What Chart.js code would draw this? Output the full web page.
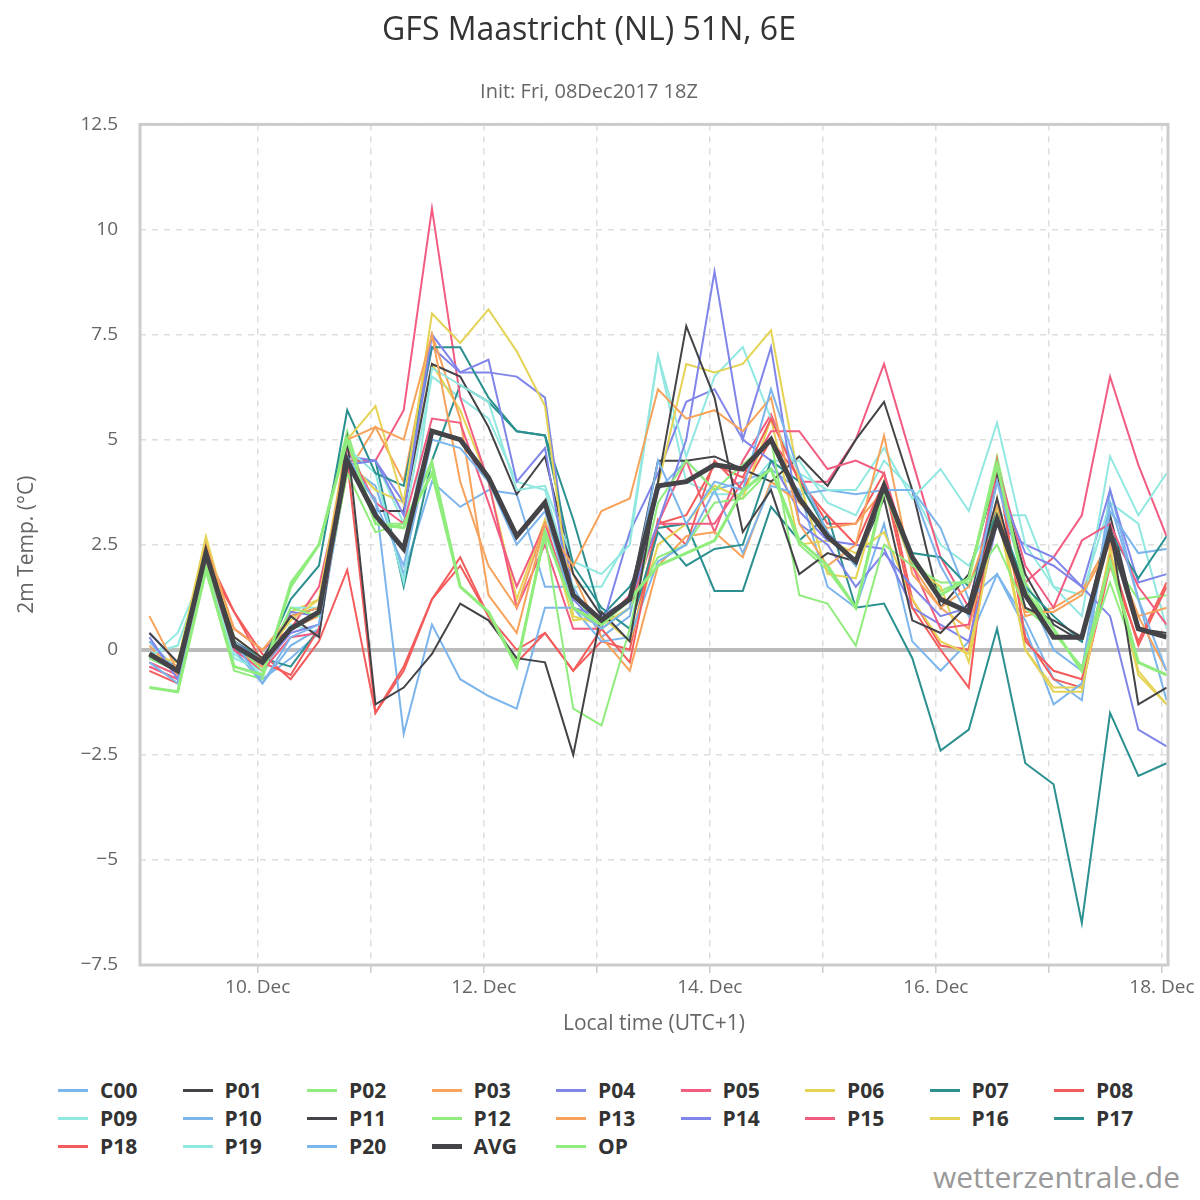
<!DOCTYPE html>
<html><head><meta charset="utf-8">
<script src="https://cdn.jsdelivr.net/npm/chart.js@4.4.1/dist/chart.umd.min.js"></script>
<style>
body{margin:0;background:#fff;font-family:"Open Sans",sans-serif;}
#wrap{position:relative;width:1200px;height:1200px;}
#cw{position:absolute;left:0;top:0;width:1200px;height:1065px;}
#legend{position:absolute;left:58px;top:1078px;width:1120px;display:grid;grid-template-columns:repeat(9,124.5px);row-gap:4px;}
.li{display:flex;align-items:center;font-weight:bold;font-size:21px;color:#333;height:24px;}
.sw{width:30px;height:3px;margin-right:12px;}
#credit{position:absolute;right:20px;top:1156px;font-size:30px;color:#999;}
</style></head><body>
<div id="wrap"><div id="cw"><canvas id="c"></canvas></div><div id="legend"></div><div id="credit">wetterzentrale.de</div></div>
<script>
const hours=[];for(let i=0;i<37;i++)hours.push(1+6*i);
const C00=[-0.3,-0.8,2.2,0.2,-0.8,0.3,0.6,4.6,3.5,2.0,5.0,4.8,4.0,2.5,3.3,1.0,0.5,1.0,4.5,3.0,4.0,3.8,6.2,4.2,2.8,2.0,3.8,3.8,2.0,0.8,4.0,1.5,0.0,-0.5,3.5,1.2,-0.5];
const P01=[0.4,-0.3,2.3,0.3,-0.2,0.8,0.3,5.0,-1.3,-0.9,-0.1,1.1,0.7,-0.2,-0.3,-2.5,0.9,0.2,4.0,7.7,6.0,2.8,3.8,1.8,2.3,2.1,3.6,0.7,0.4,1.1,3.6,1.0,0.7,0.3,2.9,-1.3,-0.9];
const P02=[-0.2,-0.5,2.0,0.2,-0.5,1.0,0.8,4.2,2.8,3.0,4.5,1.5,0.9,-0.3,2.7,-1.4,-1.8,0.5,3.5,4.5,3.8,4.4,5.0,1.3,1.1,0.1,2.5,2.0,1.6,1.6,2.5,1.0,0.4,-0.4,1.6,-0.3,-0.6];
const P03=[0.8,-0.5,2.5,0.5,0.0,0.8,1.0,5.0,5.3,5.0,7.5,4.0,2.0,1.0,3.0,2.0,3.3,3.6,6.2,5.5,5.7,5.2,6.0,3.0,2.0,2.5,5.1,1.8,1.0,1.5,3.5,0.9,0.9,1.3,2.5,0.8,1.0];
const P04=[0.3,-0.7,2.2,0.2,-0.3,0.9,0.8,4.4,4.5,3.2,7.5,6.6,6.9,4.0,4.8,1.0,0.8,1.2,3.0,5.0,9.0,5.0,7.2,3.0,2.5,1.5,2.3,1.5,0.8,1.0,4.0,2.3,2.0,1.5,0.8,-1.9,-2.3];
const P05=[-0.4,-0.7,2.1,0.0,-0.5,0.3,0.4,4.8,3.5,3.0,5.5,5.4,3.5,1.5,3.0,1.0,0.6,1.3,3.0,3.0,3.0,4.0,5.2,5.2,4.3,4.5,4.2,2.0,0.5,0.6,4.4,2.0,1.0,2.6,3.0,1.5,0.6];
const P06=[-0.1,-0.3,2.7,0.3,-0.2,0.7,1.2,5.0,5.8,3.5,8.0,7.3,8.1,7.1,5.8,0.8,0.6,1.0,3.9,6.8,6.6,6.8,7.6,4.0,1.8,1.7,4.0,2.0,1.5,-0.3,3.3,0.0,-1.0,-1.0,2.4,-0.5,-1.3];
const P07=[-0.2,-0.5,2.3,0.0,-0.3,1.2,2.0,5.7,4.2,3.9,7.2,7.2,6.0,5.2,5.1,2.0,1.0,0.5,2.8,2.0,2.4,2.5,4.5,4.0,2.8,2.0,3.9,2.3,2.2,1.5,3.3,1.5,0.8,0.2,2.8,1.7,2.7];
const P08=[-0.5,-0.8,2.1,0.9,-0.3,-0.6,0.5,4.5,-1.5,-0.4,1.2,2.0,0.8,-0.3,0.4,-0.5,0.5,-0.3,3.0,3.2,4.4,4.1,5.5,4.0,3.2,2.5,4.0,1.0,0.0,-0.9,4.5,0.2,-0.5,-0.7,2.3,0.1,1.5];
const P09=[-0.2,0.4,2.0,-0.2,-0.5,1.0,1.0,4.8,4.2,1.6,6.7,6.3,5.9,3.8,3.9,2.1,1.8,2.5,7.0,4.6,6.5,7.2,5.5,4.2,3.8,3.8,4.8,3.6,4.3,3.3,5.4,2.5,1.5,0.8,4.6,3.2,4.2];
const P10=[0.2,-0.5,2.2,0.0,-0.8,0.1,0.5,4.3,3.6,-2.0,0.6,-0.7,-1.1,-1.4,1.0,1.0,0.2,0.3,2.1,2.5,3.8,2.3,3.9,3.7,3.8,3.7,3.8,3.8,2.9,1.2,1.8,0.5,-1.3,-0.8,3.3,2.3,2.4];
const P11=[-0.1,-0.4,2.4,0.2,-0.3,0.8,1.0,4.5,3.3,3.3,6.8,6.5,5.3,3.7,4.6,1.8,0.8,1.2,4.5,4.5,4.6,4.3,4.0,4.6,3.9,5.0,5.9,3.8,1.0,1.8,4.2,1.8,0.6,0.2,3.2,0.5,0.4];
const P12=[-0.9,-1.0,1.9,-0.5,-0.7,1.6,2.5,5.2,3.0,3.0,4.4,1.5,0.9,-0.4,2.8,1.3,0.5,1.0,2.2,2.5,3.5,3.6,4.3,2.5,1.9,1.0,3.9,2.2,1.4,1.7,4.6,1.6,0.5,-0.5,2.2,1.2,1.3];
const P13=[0.1,-0.6,2.4,0.0,-0.4,0.5,0.8,4.2,5.3,4.0,7.5,5.5,1.3,0.4,3.0,1.8,0.3,-0.5,2.0,2.7,2.8,2.2,4.0,3.5,2.9,3.0,3.8,2.0,1.0,0.5,3.4,0.8,1.0,1.4,2.6,0.8,-0.5];
const P14=[0.4,-0.3,2.1,0.1,-0.4,0.4,0.6,4.6,4.5,3.5,7.2,6.6,6.6,6.5,6.0,1.2,0.5,2.8,4.2,5.9,6.2,5.0,4.5,3.3,2.6,2.5,2.4,1.0,0.6,0.2,3.0,2.5,2.2,1.5,3.8,1.6,1.8];
const P15=[-0.3,-0.6,2.2,0.5,0.0,0.5,1.5,4.5,4.5,5.7,10.5,6.0,4.0,1.0,2.5,0.5,0.5,1.0,3.0,4.5,2.8,4.5,5.6,4.0,4.0,5.0,6.8,4.5,2.2,1.0,4.2,1.6,2.2,3.2,6.5,4.4,2.7];
const P16=[-0.2,-0.5,2.6,0.1,-0.3,0.9,1.2,4.5,3.8,3.5,6.8,5.7,4.0,1.2,3.1,0.7,0.8,0.2,2.5,3.0,3.9,3.6,5.5,2.5,2.6,2.3,2.8,1.2,0.2,-0.1,3.6,0.0,-0.9,-0.9,2.2,-0.6,-1.3];
const P17=[-0.1,-0.5,2.3,0.2,-0.2,-0.4,0.5,4.5,4.5,1.5,4.5,6.3,5.9,5.2,5.1,3.1,0.8,1.5,2.9,3.0,1.4,1.4,3.4,2.6,3.2,1.0,1.1,-0.2,-2.4,-1.9,0.5,-2.7,-3.2,-6.5,-1.5,-3.0,-2.7];
const P18=[-0.4,-0.7,2.3,0.9,-0.1,-0.7,0.2,1.9,-1.5,-0.5,1.2,2.2,0.8,0.0,0.4,-0.5,0.2,0.0,3.1,2.5,4.5,3.8,5.0,4.1,3.0,3.0,4.2,1.2,0.1,0.0,4.3,0.3,-0.7,-0.9,2.0,0.2,1.6];
const P19=[-0.1,0.1,2.0,-0.1,-0.6,0.6,0.4,4.5,4.5,3.0,6.5,6.0,5.5,4.0,3.8,1.5,1.5,2.7,7.0,4.0,3.7,3.7,4.5,4.5,3.5,3.2,4.5,3.8,2.5,2.0,3.2,3.2,1.5,1.3,3.5,3.0,0.5];
const P20=[0.2,-0.6,2.1,0.1,-0.7,-0.2,0.4,4.4,3.9,1.8,4.0,3.4,3.8,3.7,1.5,1.5,0.3,0.8,3.8,4.5,3.8,4.0,4.3,3.8,1.5,1.0,3.0,0.2,-0.5,0.2,1.8,0.7,-0.7,-1.2,3.8,1.2,-1.2];
const AVG=[-0.1,-0.5,2.3,0.1,-0.3,0.5,0.9,4.5,3.2,2.4,5.2,5.0,4.1,2.7,3.5,1.3,0.7,1.2,3.9,4.0,4.4,4.3,5.0,3.6,2.7,2.1,3.9,2.2,1.2,0.9,3.1,1.3,0.3,0.3,2.8,0.5,0.3];
const OP=[-0.9,-1.0,1.9,-0.4,-0.6,1.5,2.5,5.0,3.0,2.9,4.2,1.5,0.9,-0.4,2.8,1.0,0.6,1.2,2.0,2.3,2.6,3.8,4.3,2.6,2.0,1.0,3.8,2.1,1.3,1.7,4.4,1.4,0.5,-0.5,2.1,-0.3,-0.6];
const names=['C00','P01','P02','P03','P04','P05','P06','P07','P08','P09','P10','P11','P12','P13','P14','P15','P16','P17','P18','P19','P20','AVG','OP'];
const series=[C00,P01,P02,P03,P04,P05,P06,P07,P08,P09,P10,P11,P12,P13,P14,P15,P16,P17,P18,P19,P20,AVG,OP];
const pal=['#7cb5ec','#434348','#90ed7d','#f7a35c','#8085e9','#f15c80','#e4d354','#2b908f','#f45b5b','#91e8e1'];
const colors=names.map((n,i)=>n==='AVG'?'#434348':n==='OP'?'#90ed7d':pal[i%10]);
const dayLabels={24:'10. Dec',72:'12. Dec',120:'14. Dec',168:'16. Dec',216:'18. Dec'};
const datasets=names.map((n,i)=>({label:n,data:series[i].map((v,j)=>({x:hours[j],y:v})),borderColor:colors[i],borderWidth:n==='AVG'?5:(n==='OP'?3:2),pointRadius:0,tension:0,order:n==='AVG'?0:(n==='OP'?1:2)}));
const lg=document.getElementById('legend');
names.forEach((n,i)=>{const d=document.createElement('div');d.className='li';d.innerHTML=`<span class="sw" style="background:${colors[i]};height:${n==='AVG'?5:3}px"></span>${n}`;lg.appendChild(d);});
const border={id:'border',afterDraw(c){const a=c.chartArea,x=c.ctx;x.save();x.strokeStyle='#ccc';x.lineWidth=3;x.strokeRect(a.left,a.top,a.right-a.left,a.bottom-a.top);x.restore();}};
new Chart(document.getElementById('c'),{type:'line',data:{datasets},plugins:[border],
options:{responsive:true,maintainAspectRatio:false,animation:false,
layout:{padding:{left:10,right:32,top:0,bottom:24}},
plugins:{legend:{display:false},tooltip:{enabled:false},
title:{display:true,text:'GFS Maastricht (NL) 51N, 6E',color:'#333',font:{family:'Open Sans',size:32,weight:'normal'},padding:{top:12,bottom:30}},
subtitle:{display:true,text:'Init: Fri, 08Dec2017 18Z',color:'#666',font:{family:'Open Sans',size:20},padding:{bottom:20}}},
scales:{x:{type:'linear',min:-1,max:217.3,
afterBuildTicks(s){s.ticks=[24,48,72,96,120,144,168,192,216].map(v=>({value:v}));},
ticks:{autoSkip:false,maxRotation:0,color:'#666',font:{family:'Open Sans',size:19},callback:v=>dayLabels[v]||''},
grid:{color:'#ddd',lineWidth:1.5,tickLength:8,tickColor:'#ccc'},border:{dash:[6,6],display:false},
title:{display:true,text:'Local time (UTC+1)',color:'#666',font:{family:'Open Sans',size:21},padding:{top:10}}},
y:{min:-7.5,max:12.5,afterBuildTicks(s){s.ticks=[-7.5,-5,-2.5,0,2.5,5,7.5,10,12.5].map(v=>({value:v}));},
afterFit(s){s.width=130;},
ticks:{color:'#666',font:{family:'Open Sans',size:19},padding:22,callback:v=>String(v).replace('-','−')},
grid:{color:c=>c.tick&&c.tick.value===0?'#bbb':'#ddd',lineWidth:c=>c.tick&&c.tick.value===0?4:1.5,drawTicks:false},border:{dash:c=>c.tick&&c.tick.value===0?[]:[6,6],display:false},
title:{display:true,text:'2m Temp. (°C)',color:'#666',font:{family:'Open Sans',size:21}}}}}});
</script></body></html>
